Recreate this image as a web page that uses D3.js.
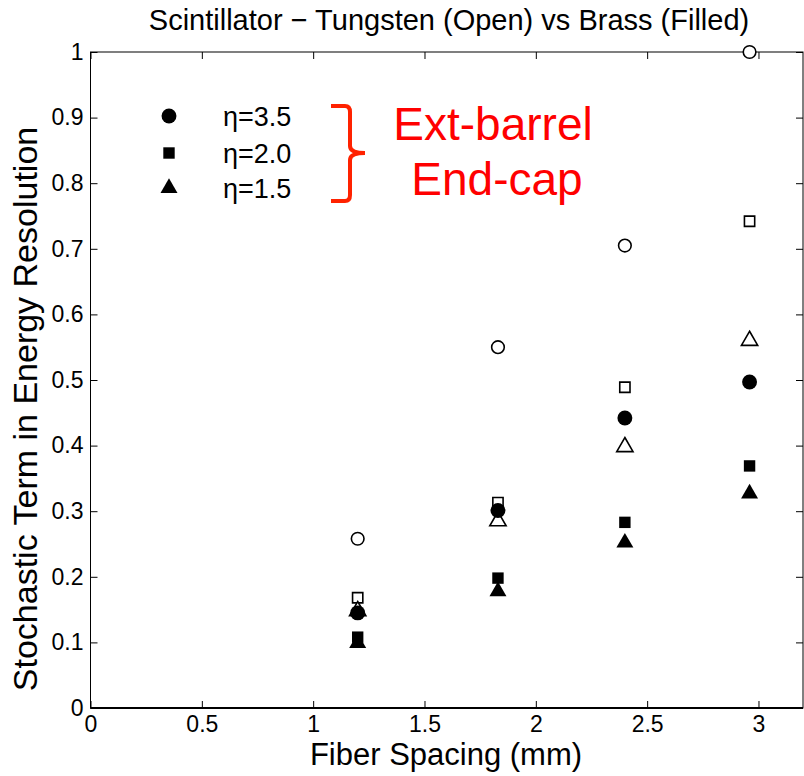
<!DOCTYPE html>
<html>
<head>
<meta charset="utf-8">
<script src="https://cdn.jsdelivr.net/npm/d3@7.9.0/dist/d3.min.js"></script>
<style>
  body { margin: 0; background: #fff; }
  svg { display: block; font-family: "Liberation Sans", Arial, sans-serif; }
</style>
</head>
<body>
<svg id="chart" width="804" height="776"></svg>
<script>
// fiber spacing positions (mm)
const spacing = [1.2, 1.83, 2.4, 2.96];

// Tungsten (open markers)
const tungstenEta35 = [0.258, 0.55, 0.705, 1.0];
const tungstenEta20 = [0.168, 0.313, 0.489, 0.742];
const tungstenEta15 = [0.148, 0.285, 0.398, 0.56];

// Brass (filled markers)
const brassEta35 = [0.145, 0.301, 0.442, 0.497];
const brassEta20 = [0.108, 0.198, 0.283, 0.369];
const brassEta15 = [0.099, 0.178, 0.252, 0.327];

const xTicks = [0, 0.5, 1, 1.5, 2, 2.5, 3];
const yTicks = [0, 0.1, 0.2, 0.3, 0.4, 0.5, 0.6, 0.7, 0.8, 0.9, 1];
const legendLabels = ['η=3.5', 'η=2.0', 'η=1.5'];
const legendShapes = ['circle', 'square', 'triangle'];

const svg = d3.select('#chart');
const mLeft = 90.5, mRight = 803, mTop = 52, mBottom = 708;

const x = d3.scaleLinear().domain([0, 3.2]).range([mLeft, mRight]);
const y = d3.scaleLinear().domain([0, 1]).range([mBottom, mTop]);

// frame
svg.append('rect')
  .attr('x', mLeft).attr('y', mTop)
  .attr('width', mRight - mLeft).attr('height', mBottom - mTop)
  .attr('fill', 'none').attr('stroke', '#000').attr('stroke-width', 1);
svg.append('line')
  .attr('x1', mLeft).attr('x2', mRight).attr('y1', mBottom).attr('y2', mBottom)
  .attr('stroke', '#000').attr('stroke-width', 2);

// axes (ticks pointing inwards)
const xAxis = svg.append('g').attr('transform', `translate(0,${mBottom})`)
  .call(d3.axisBottom(x).tickValues(xTicks).tickSizeInner(-7).tickSizeOuter(0)
    .tickPadding(8).tickFormat(d3.format('')));
const yAxis = svg.append('g').attr('transform', `translate(${mLeft},0)`)
  .call(d3.axisLeft(y).tickValues(yTicks).tickSizeInner(-7).tickSizeOuter(0)
    .tickPadding(7).tickFormat(d3.format('')));
svg.append('g').attr('transform', `translate(0,${mTop})`)
  .call(d3.axisTop(x).tickValues(xTicks).tickSizeInner(-7).tickSizeOuter(0).tickFormat(''));
svg.append('g').attr('transform', `translate(${mRight},0)`)
  .call(d3.axisRight(y).tickValues(yTicks).tickSizeInner(-7).tickSizeOuter(0).tickFormat(''));

svg.selectAll('.domain').remove();
svg.selectAll('.tick line').attr('stroke', '#000');
xAxis.selectAll('text').attr('font-size', 23).attr('fill', '#000').attr('dy', '0.71em');
yAxis.selectAll('text').attr('font-size', 23).attr('fill', '#000');

// labels
svg.append('text')
  .attr('x', 449).attr('y', 30)
  .attr('text-anchor', 'middle').attr('font-size', 29)
  .text('Scintillator − Tungsten (Open) vs Brass (Filled)');
svg.append('text')
  .attr('x', 446).attr('y', 765)
  .attr('text-anchor', 'middle').attr('font-size', 31)
  .text('Fiber Spacing (mm)');
svg.append('text')
  .attr('transform', 'translate(37,409) rotate(-90)')
  .attr('text-anchor', 'middle').attr('font-size', 34)
  .text('Stochastic Term in Energy Resolution');

// marker symbols
const openSymbol = {
  circle: d3.symbol().type(d3.symbolCircle).size(125),
  square: d3.symbol().type(d3.symbolSquare).size(105),
  triangle: d3.symbol().type(d3.symbolTriangle).size(115)
};
const filledSymbol = {
  circle: d3.symbol().type(d3.symbolCircle).size(175),
  square: d3.symbol().type(d3.symbolSquare).size(130),
  triangle: d3.symbol().type(d3.symbolTriangle).size(125)
};

function drawSeries(values, shape, filled) {
  svg.append('g').selectAll('path')
    .data(values)
    .join('path')
    .attr('d', filled ? filledSymbol[shape] : openSymbol[shape])
    .attr('transform', (d, i) => `translate(${x(spacing[i])},${y(d)})`)
    .attr('fill', filled ? '#000' : '#fff')
    .attr('stroke', '#000')
    .attr('stroke-width', filled ? 0 : 1.6);
}

drawSeries(tungstenEta35, 'circle', false);
drawSeries(tungstenEta20, 'square', false);
drawSeries(tungstenEta15, 'triangle', false);
drawSeries(brassEta35, 'circle', true);
drawSeries(brassEta20, 'square', true);
drawSeries(brassEta15, 'triangle', true);

// legend
const legendY = [116, 153, 188];
legendShapes.forEach((s, i) => {
  svg.append('path')
    .attr('d', filledSymbol[s])
    .attr('transform', `translate(169,${legendY[i]})`)
    .attr('fill', '#000');
  svg.append('text')
    .attr('x', 223).attr('y', legendY[i] + 10)
    .attr('font-size', 27)
    .text(legendLabels[i]);
});

// red brace and annotations
svg.append('path')
  .attr('d', 'M331,106 L345,106 Q350,106 350,112 L350,146 Q350,153 365,153 Q350,153 350,160 L350,195 Q350,201 345,201 L331,201')
  .attr('fill', 'none').attr('stroke', '#ff2200').attr('stroke-width', 4);
svg.append('text')
  .attr('x', 493).attr('y', 140)
  .attr('text-anchor', 'middle').attr('font-size', 46).attr('fill', '#ff0000')
  .text('Ext-barrel');
svg.append('text')
  .attr('x', 497).attr('y', 195)
  .attr('text-anchor', 'middle').attr('font-size', 46).attr('fill', '#ff0000')
  .text('End-cap');
</script>
</body>
</html>
